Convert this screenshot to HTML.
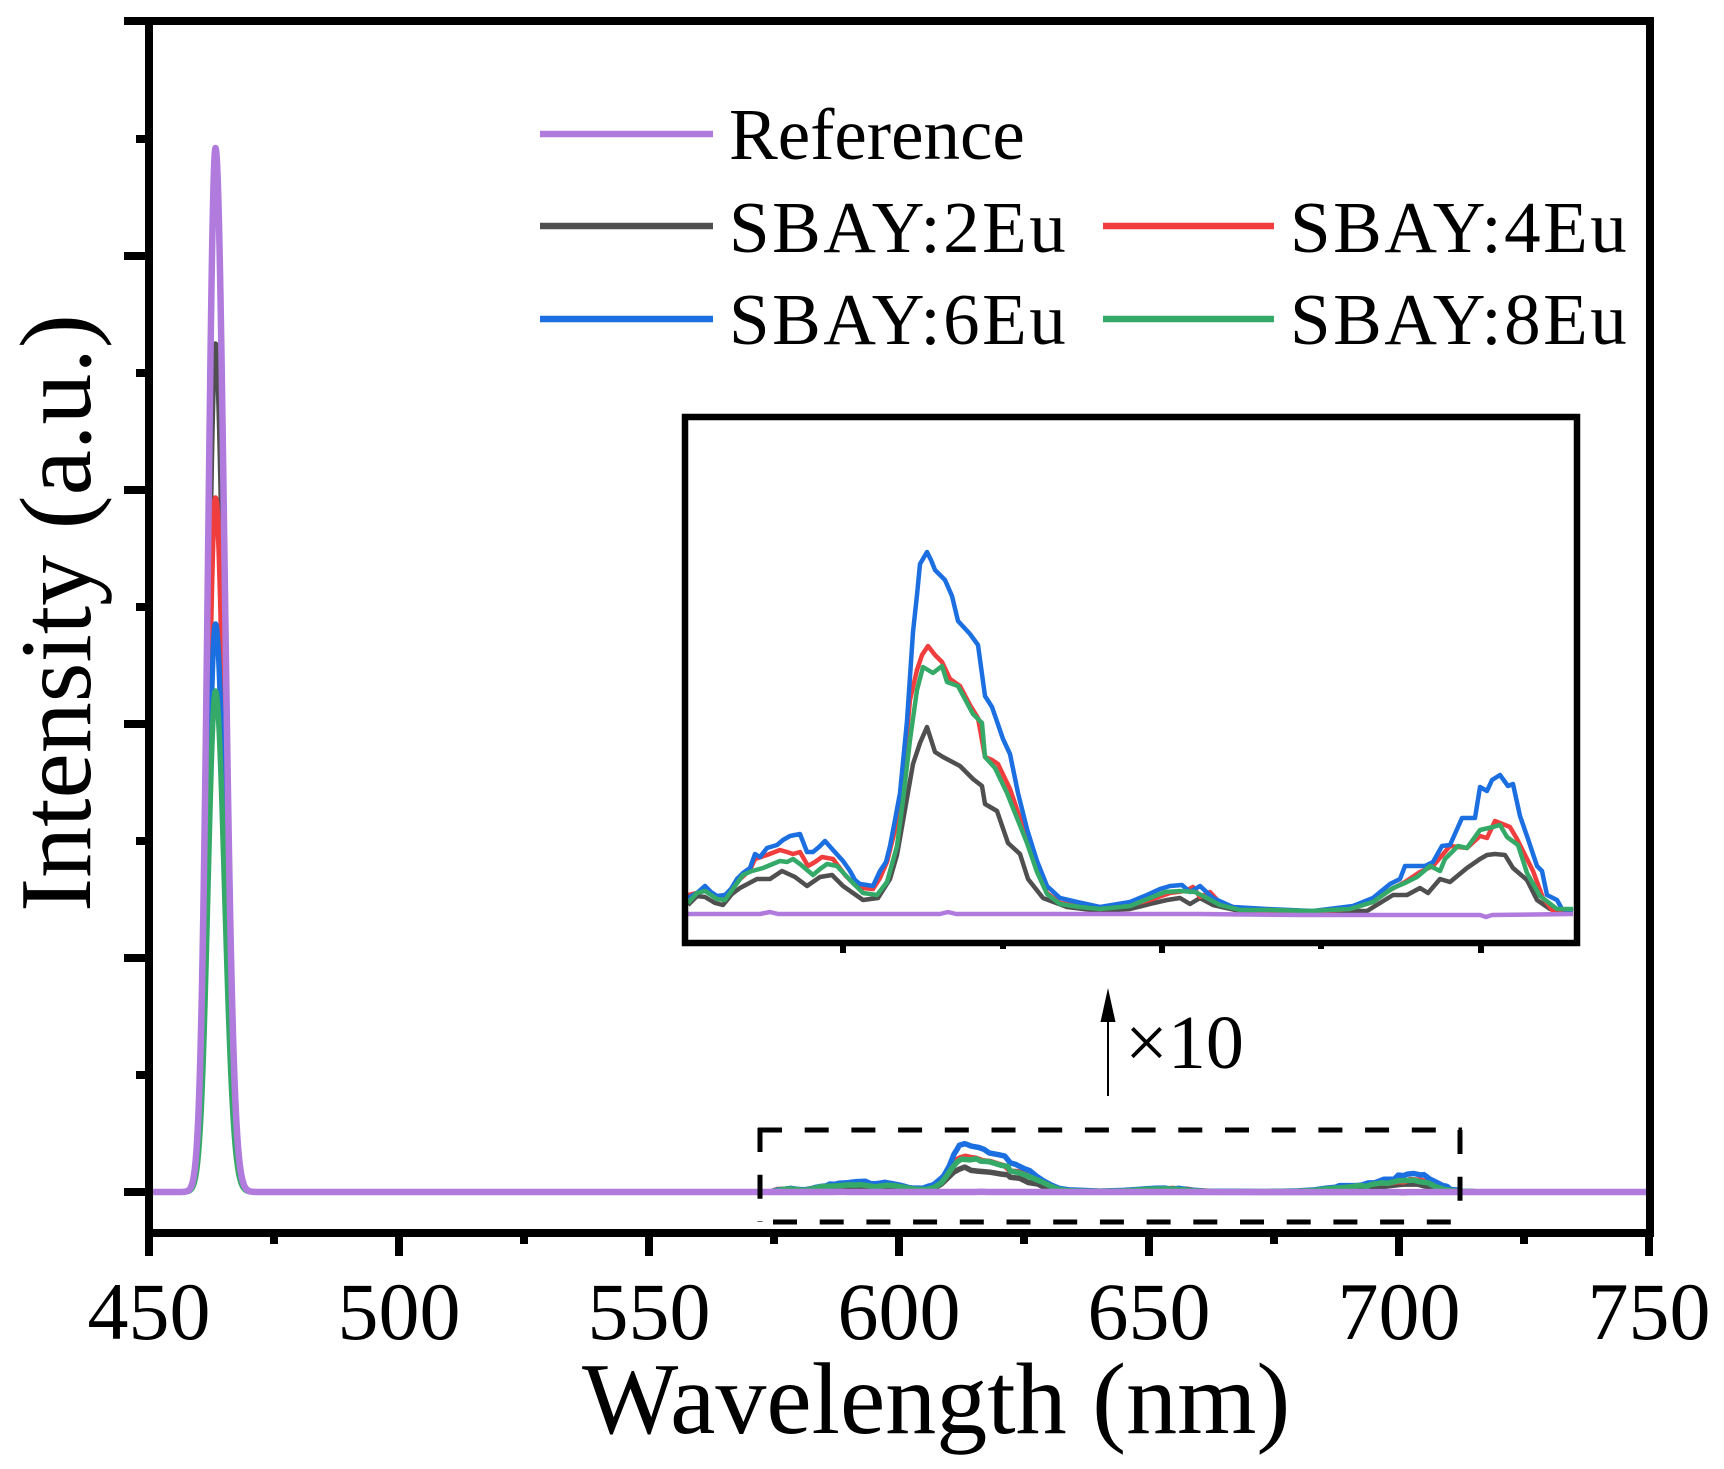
<!DOCTYPE html>
<html><head><meta charset="utf-8"><style>
html,body{margin:0;padding:0;background:#fff;}
svg{display:block;}
text{font-family:"Liberation Serif","Times New Roman",serif;fill:#000;}
</style></head><body>
<svg id="s" width="1724" height="1469" viewBox="0 0 1724 1469" xmlns="http://www.w3.org/2000/svg">
<rect width="1724" height="1469" fill="#fff"/>
<defs>
<clipPath id="ic"><rect x="688" y="420" width="886" height="520"/></clipPath>
<clipPath id="mc"><rect x="153" y="25" width="1493" height="1204"/></clipPath>
</defs>

<!-- main series -->
<g id="main" clip-path="url(#mc)" fill="none" stroke-linejoin="round" stroke-linecap="butt"></g>

<!-- dashed box -->
<g stroke="#000" stroke-width="5" fill="none">
<line x1="758" y1="1130" x2="1462" y2="1130" stroke-dasharray="24 22.7"/>
<line x1="760" y1="1128" x2="760" y2="1222" stroke-dasharray="24 22.7"/>
<line x1="773" y1="1222" x2="1460" y2="1222" stroke-dasharray="24 22.7"/>
<line x1="1460" y1="1130" x2="1460" y2="1222" stroke-dasharray="24 22.7"/>
</g>

<!-- arrow and x10 -->
<line x1="1108" y1="1096" x2="1108" y2="1018" stroke="#000" stroke-width="2"/>
<polygon points="1108,988 1100.5,1022 1115.5,1022" fill="#000"/>
<text x="1125" y="1068" font-size="76">×10</text>

<!-- inset -->
<g id="inset" clip-path="url(#ic)" fill="none" stroke-linejoin="round"></g>
<rect x="685" y="417" width="892" height="526" fill="none" stroke="#000" stroke-width="6.5"/>
<g stroke="#000" stroke-width="6">
<line x1="843" y1="943" x2="843" y2="953"/>
<line x1="1162" y1="943" x2="1162" y2="953"/>
<line x1="1481" y1="943" x2="1481" y2="953"/>
<line x1="1003" y1="943" x2="1003" y2="949"/>
<line x1="1321" y1="943" x2="1321" y2="949"/>
</g>

<!-- frame -->
<rect x="149" y="21" width="1501" height="1212" fill="none" stroke="#000" stroke-width="8"/>
<g stroke="#000" stroke-width="8">
<line x1="124" y1="1192" x2="149" y2="1192"/>
<line x1="124" y1="958" x2="149" y2="958"/>
<line x1="124" y1="724" x2="149" y2="724"/>
<line x1="124" y1="490" x2="149" y2="490"/>
<line x1="124" y1="256" x2="149" y2="256"/>
<line x1="124" y1="21" x2="149" y2="21"/>
<line x1="136" y1="1075" x2="149" y2="1075"/>
<line x1="136" y1="841" x2="149" y2="841"/>
<line x1="136" y1="607" x2="149" y2="607"/>
<line x1="136" y1="373" x2="149" y2="373"/>
<line x1="136" y1="139" x2="149" y2="139"/>
<line x1="149" y1="1233" x2="149" y2="1256"/>
<line x1="399" y1="1233" x2="399" y2="1256"/>
<line x1="649" y1="1233" x2="649" y2="1256"/>
<line x1="899" y1="1233" x2="899" y2="1256"/>
<line x1="1149" y1="1233" x2="1149" y2="1256"/>
<line x1="1399" y1="1233" x2="1399" y2="1256"/>
<line x1="1649" y1="1233" x2="1649" y2="1256"/>
<line x1="274" y1="1233" x2="274" y2="1244"/>
<line x1="524" y1="1233" x2="524" y2="1244"/>
<line x1="774" y1="1233" x2="774" y2="1244"/>
<line x1="1024" y1="1233" x2="1024" y2="1244"/>
<line x1="1274" y1="1233" x2="1274" y2="1244"/>
<line x1="1524" y1="1233" x2="1524" y2="1244"/>
</g>

<!-- tick labels -->
<g font-size="82" text-anchor="middle">
<text x="149" y="1339">450</text>
<text x="399" y="1339">500</text>
<text x="649" y="1339">550</text>
<text x="899" y="1339">600</text>
<text x="1149" y="1339">650</text>
<text x="1399" y="1339">700</text>
<text x="1649" y="1339">750</text>
</g>
<text x="582" y="1433" font-size="102">Wavelength (nm)</text>
<text transform="translate(90,613) rotate(-90)" text-anchor="middle" font-size="102">Intensity (a.u.)</text>

<!-- legend -->
<g stroke-width="6.5">
<line x1="540" y1="134" x2="713" y2="134" stroke="#B07BDD"/>
<line x1="540" y1="226" x2="713" y2="226" stroke="#4F4F4F"/>
<line x1="540" y1="319" x2="713" y2="319" stroke="#1C6FE0"/>
<line x1="1103" y1="226" x2="1274" y2="226" stroke="#F03E3E"/>
<line x1="1103" y1="319" x2="1274" y2="319" stroke="#35AA68"/>
</g>
<g font-size="73">
<text x="729" y="159">Reference</text>
<text x="729" y="252" letter-spacing="2.5">SBAY:2Eu</text>
<text x="729" y="344" letter-spacing="2.5">SBAY:6Eu</text>
<text x="1290" y="252" letter-spacing="2.5">SBAY:4Eu</text>
<text x="1290" y="344" letter-spacing="2.5">SBAY:8Eu</text>
</g>
</svg>
<script>
(function(){
var NS="http://www.w3.org/2000/svg";
var C={p:'#B07BDD',k:'#4F4F4F',r:'#F03E3E',b:'#1C6FE0',g:'#35AA68'};
var D={
b:[688,898,697,893,705,886,711,892,717,896,725,895,731,889,737,879,743,873,750,868,755,854,760,857,767,848,777,845,783,840,790,836,800,834,807,852,813,852,819,847,825,841,833,850,843,861,850,871,855,880,860,884,867,885,873,886,880,871,886,862,890,846,895,820,900,793,907,721,913,632,917,595,920,564,927,552,931,560,935,570,945,580,952,596,958,621,970,634,978,645,985,696,992,707,1003,739,1010,754,1018,793,1027,829,1037,861,1047,886,1060,898,1077,902,1100,907,1130,902,1147,895,1160,889,1170,886,1182,885,1190,892,1200,886,1213,898,1233,907,1267,909,1313,911,1353,906,1373,898,1390,884,1400,879,1405,866,1425,866,1433,862,1442,846,1450,845,1462,818,1475,818,1480,787,1487,791,1492,780,1500,775,1508,786,1513,784,1520,816,1528,839,1537,866,1542,871,1547,895,1557,900,1562,909,1573,911],
r:[688,895,697,893,705,889,717,897,725,896,737,882,750,870,755,859,767,855,780,850,787,852,793,854,800,852,808,866,815,862,822,857,833,859,845,875,855,885,863,888,873,889,880,878,887,862,895,830,903,775,910,700,917,670,922,655,928,646,935,655,942,662,950,679,960,686,970,705,978,718,985,757,992,760,998,764,1010,789,1020,818,1027,839,1037,870,1047,893,1060,903,1080,906,1100,909,1130,905,1150,900,1170,893,1185,891,1193,887,1200,897,1210,892,1220,903,1240,909,1270,911,1310,912,1350,909,1373,902,1390,890,1405,882,1420,872,1433,866,1450,846,1467,848,1480,836,1487,838,1495,821,1510,827,1517,839,1533,871,1543,898,1553,911,1573,911],
g:[688,903,697,893,705,891,717,899,725,900,735,886,743,875,752,871,763,868,780,861,787,862,793,859,800,864,813,875,820,869,827,864,837,866,850,880,863,893,877,895,887,882,897,846,903,800,910,740,917,690,923,667,933,673,942,666,947,682,958,686,973,714,982,723,985,757,995,768,1007,793,1017,818,1027,843,1037,872,1047,894,1060,904,1080,907,1100,909,1130,906,1150,898,1165,892,1180,891,1195,892,1205,897,1220,905,1240,910,1270,910,1310,911,1350,909,1373,902,1393,888,1405,883,1417,877,1430,866,1440,871,1445,859,1458,846,1467,848,1480,830,1493,827,1500,825,1507,837,1518,845,1527,873,1540,896,1557,909,1573,909],
k:[688,905,697,896,705,897,715,903,723,905,732,894,740,888,757,879,770,879,782,871,795,877,807,886,820,877,832,875,843,886,853,893,863,900,878,898,890,879,897,855,903,821,913,764,920,743,927,727,935,752,943,757,960,766,973,779,982,786,985,804,997,811,1008,843,1020,854,1028,879,1043,898,1067,907,1100,911,1130,909,1150,904,1167,900,1180,898,1190,904,1200,898,1213,905,1240,911,1300,912,1350,911,1367,911,1393,895,1407,895,1420,888,1428,893,1440,879,1450,882,1467,868,1480,859,1487,855,1495,854,1505,855,1513,868,1527,880,1537,900,1550,909,1573,911],
p:[688,914,760,914,770,912,778,914,940,914,948,912,956,914,1200,914,1300,915,1480,915,1486,917,1492,915,1573,914]
};
var H={p:1044,k:848,r:694,b:568,g:501};
function mk(parent,pts,col,w){
  var d='M'+pts[0][0].toFixed(1)+','+pts[0][1].toFixed(1);
  for(var i=1;i<pts.length;i++) d+='L'+pts[i][0].toFixed(1)+','+pts[i][1].toFixed(1);
  var p=document.createElementNS(NS,'path');
  p.setAttribute('d',d);p.setAttribute('stroke',col);p.setAttribute('stroke-width',w);p.setAttribute('fill','none');
  parent.appendChild(p);
}
var main=document.getElementById('main'), inset=document.getElementById('inset');
var order=['k','r','b','g','p'];
order.forEach(function(s){
  var a=D[s], ip=[], mp=[[140,1192]];
  for(var x=168;x<=268;x+=0.5){
    var sg=x<215.5?7.5:9;
    mp.push([x,1192-H[s]*Math.exp(-0.5*Math.pow((x-215.5)/sg,2))]);
  }
  mp.push([770,1192]);
  for(var i=0;i<a.length;i+=2){
    ip.push([a[i],a[i+1]]);
    mp.push([899+(a[i]-843)*0.7837,1192-(914-a[i+1])/7.5]);
  }
  mp.push([1480,1192]);mp.push([1660,1192]);
  mk(main,mp,C[s],s==='p'?6.5:5.5);
  mk(inset,ip,C[s],4.5);
});
})();
</script>
</body></html>
